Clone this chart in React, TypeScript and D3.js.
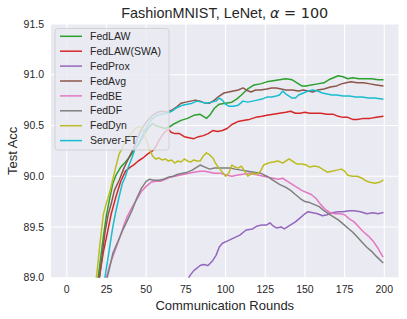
import React from "react";
import * as d3 from "d3";

type Pt = [number, number];

const seriesNames = ["FedLAW", "FedLAW(SWA)", "FedProx", "FedAvg", "FedBE", "FedDF", "FedDyn", "Server-FT"];
const seriesColors = ["#2ca02c", "#d62728", "#9467bd", "#8c564b", "#e377c2", "#7f7f7f", "#bcbd22", "#17becf"];

const xTicks = [0, 25, 50, 75, 100, 125, 150, 175, 200];
const yTicks = [89.0, 89.5, 90.0, 90.5, 91.0, 91.5];

const fedLAW: Pt[] = [[17,88.7],[20,89.03],[23,89.40],[25,89.62],[27,89.78],[29,89.93],[31,90.01],[34,90.09],[37,90.14],[40,90.2],[43,90.27],[45,90.31],[47,90.36],[49,90.42],[51,90.47],[54,90.52],[56,90.5],[58,90.49],[62,90.47],[65,90.49],[68,90.52],[72,90.55],[76,90.57],[80,90.6],[84,90.61],[86,90.59],[88,90.57],[90,90.6],[93,90.67],[96,90.71],[100,90.72],[104,90.73],[107,90.76],[110,90.8],[114,90.86],[118,90.9],[122,90.91],[126,90.93],[130,90.94],[134,90.95],[138,90.96],[142,90.95],[145,90.92],[148,90.89],[151,90.89],[154,90.9],[158,90.91],[162,90.92],[165,90.95],[168,90.97],[171,90.99],[174,90.98],[177,90.96],[180,90.97],[184,90.96],[188,90.96],[192,90.96],[196,90.95],[199,90.95]];

const fedLAWSWA: Pt[] = [[19,88.85],[21,89.05],[23,89.25],[25,89.4],[28,89.63],[31,89.8],[34,89.95],[37,90.05],[40,90.09],[42,90.11],[45,90.15],[48,90.18],[51,90.22],[54,90.25],[56,90.29],[58,90.35],[60,90.4],[62,90.44],[64,90.46],[66,90.43],[68,90.42],[71,90.42],[74,90.39],[77,90.38],[80,90.37],[83,90.39],[86,90.4],[89,90.42],[92,90.45],[95,90.44],[98,90.45],[101,90.47],[104,90.51],[108,90.54],[111,90.55],[115,90.56],[119,90.58],[123,90.59],[126,90.6],[130,90.61],[134,90.62],[138,90.63],[141,90.64],[144,90.62],[147,90.62],[150,90.63],[153,90.62],[157,90.62],[160,90.62],[164,90.61],[168,90.61],[171,90.59],[174,90.58],[177,90.58],[180,90.56],[183,90.56],[187,90.57],[191,90.57],[195,90.58],[199,90.59]];

const fedProx: Pt[] = [[72,88.85],[76,88.98],[78,89.03],[80,89.07],[84,89.12],[86,89.13],[89,89.12],[92,89.17],[94,89.22],[96,89.3],[98,89.34],[101,89.36],[105,89.39],[109,89.42],[113,89.47],[117,89.48],[120,89.51],[123,89.52],[126,89.52],[128,89.54],[130,89.51],[132,89.49],[135,89.5],[137,89.48],[140,89.51],[144,89.55],[147,89.59],[150,89.63],[152,89.65],[155,89.64],[158,89.63],[161,89.61],[164,89.62],[167,89.64],[171,89.65],[174,89.65],[178,89.66],[181,89.66],[185,89.65],[189,89.63],[193,89.64],[196,89.63],[199,89.64]];

const fedAvg: Pt[] = [[18,88.75],[21,89.05],[24,89.44],[26,89.62],[28,89.73],[30,89.86],[33,89.96],[36,90.08],[39,90.18],[42,90.27],[45,90.39],[47,90.46],[49,90.51],[51,90.55],[54,90.6],[57,90.63],[60,90.64],[63,90.63],[66,90.65],[69,90.68],[72,90.72],[75,90.73],[78,90.74],[81,90.75],[84,90.74],[87,90.72],[90,90.72],[93,90.75],[96,90.79],[99,90.82],[102,90.83],[105,90.84],[108,90.85],[111,90.87],[113,90.85],[116,90.83],[119,90.85],[122,90.85],[126,90.86],[129,90.87],[132,90.87],[135,90.86],[138,90.85],[142,90.85],[146,90.84],[149,90.85],[152,90.84],[155,90.83],[158,90.85],[162,90.86],[166,90.88],[170,90.89],[173,90.91],[176,90.92],[179,90.93],[183,90.92],[187,90.92],[191,90.91],[195,90.9],[199,90.89]];

const fedBE: Pt[] = [[24,88.95],[27,89.12],[30,89.25],[33,89.38],[36,89.52],[38,89.6],[41,89.69],[44,89.77],[47,89.85],[50,89.9],[53,89.94],[56,89.95],[59,89.95],[62,89.97],[65,89.99],[68,90.0],[71,90.01],[74,90.02],[77,90.03],[80,90.04],[84,90.05],[87,90.05],[90,90.04],[93,90.03],[97,90.03],[101,90.01],[104,90.0],[107,90.01],[111,90.02],[115,90.03],[118,90.02],[121,90.01],[124,90.0],[127,89.99],[130,89.98],[133,89.97],[136,89.98],[139,89.95],[142,89.92],[145,89.89],[148,89.86],[151,89.84],[154,89.82],[157,89.78],[160,89.72],[163,89.67],[166,89.64],[169,89.63],[172,89.63],[175,89.62],[178,89.58],[181,89.55],[184,89.5],[187,89.45],[190,89.41],[193,89.36],[196,89.29],[199,89.21]];

const fedDF: Pt[] = [[25,88.97],[27,89.1],[29,89.24],[32,89.35],[35,89.46],[38,89.56],[41,89.66],[44,89.78],[47,89.88],[50,89.95],[52,89.97],[55,89.96],[58,89.96],[61,89.97],[64,89.99],[67,90.0],[70,90.02],[73,90.03],[76,90.04],[79,90.06],[82,90.09],[84,90.11],[87,90.09],[90,90.07],[93,90.08],[96,90.08],[100,90.08],[103,90.08],[106,90.07],[110,90.06],[114,90.05],[118,90.04],[122,90.03],[126,90.0],[130,89.96],[134,89.92],[138,89.89],[141,89.86],[144,89.82],[147,89.78],[150,89.75],[153,89.74],[156,89.72],[159,89.7],[162,89.66],[165,89.63],[168,89.6],[171,89.57],[174,89.53],[177,89.49],[180,89.45],[183,89.4],[186,89.35],[189,89.3],[192,89.26],[195,89.21],[199,89.15]];

const fedDyn: Pt[] = [[17,88.8],[19,89.05],[21,89.35],[23,89.62],[25,89.74],[27,89.84],[29,89.97],[31,90.1],[33,90.22],[35,90.28],[37,90.34],[40,90.41],[42,90.45],[44,90.48],[46,90.49],[48,90.46],[50,90.36],[52,90.27],[54,90.2],[56,90.17],[58,90.18],[60,90.16],[62,90.17],[64,90.15],[66,90.16],[68,90.13],[70,90.15],[72,90.14],[74,90.17],[76,90.15],[78,90.14],[80,90.16],[82,90.15],[84,90.15],[86,90.2],[88,90.23],[90,90.21],[92,90.18],[94,90.12],[96,90.08],[98,90.04],[100,90.0],[102,90.03],[104,90.11],[106,90.09],[108,90.08],[110,90.1],[112,90.05],[114,90.0],[116,90.02],[118,90.03],[120,90.02],[122,90.05],[124,90.11],[127,90.13],[130,90.14],[133,90.15],[136,90.13],[138,90.15],[140,90.17],[142,90.15],[145,90.12],[148,90.12],[151,90.11],[153,90.09],[156,90.1],[159,90.09],[162,90.06],[164,90.04],[167,90.05],[170,90.06],[173,90.07],[175,90.05],[177,90.01],[180,90.0],[183,90.0],[186,89.98],[189,89.95],[191,89.94],[194,89.93],[197,89.94],[199,89.96]];

const serverFT: Pt[] = [[23,88.9],[25,89.1],[27,89.3],[29,89.5],[31,89.66],[33,89.8],[35,89.93],[37,90.0],[39,90.1],[41,90.18],[43,90.27],[45,90.32],[47,90.38],[49,90.45],[51,90.5],[53,90.55],[55,90.58],[57,90.6],[60,90.61],[63,90.62],[66,90.64],[68,90.66],[70,90.68],[73,90.7],[76,90.71],[79,90.72],[82,90.74],[85,90.73],[88,90.72],[91,90.73],[94,90.74],[96,90.77],[98,90.75],[100,90.71],[102,90.69],[105,90.69],[108,90.7],[111,90.74],[114,90.73],[117,90.74],[120,90.75],[123,90.76],[126,90.78],[129,90.78],[132,90.79],[134,90.8],[136,90.84],[138,90.81],[140,90.79],[142,90.77],[144,90.77],[146,90.8],[149,90.82],[152,90.84],[155,90.85],[158,90.84],[161,90.82],[164,90.81],[167,90.8],[170,90.8],[174,90.79],[178,90.79],[182,90.78],[186,90.78],[190,90.77],[194,90.77],[199,90.76]];

const seriesData: Pt[][] = [fedLAW, fedLAWSWA, fedProx, fedAvg, fedBE, fedDF, fedDyn, serverFT];

const W = 407;
const H = 319;
const PL = 51, PR = 398.5, PT = 24, PB = 277.7;
const TEXT = "#262626";
const FONT = "Arial, 'Liberation Sans', Helvetica, sans-serif";

export default function App() {
  const x = d3.scaleLinear().domain([-9.95, 208.95]).range([PL, PR]);
  const y = d3.scaleLinear().domain([89, 91.5]).range([PB, PT]);
  const line = d3.line<Pt>().x(d => x(d[0])).y(d => y(d[1]));

  const legX = 55, legY = 28.5, legW = 114, legH = 121.5;
  const rowY0 = 36.3, rowStep = 14.9;

  return (
    <svg width={W} height={H} style={{ position: "absolute", left: 0, top: 0, background: "#ffffff" }}
      fontFamily={FONT}>
      <defs>
        <clipPath id="plotclip">
          <rect x={PL} y={PT} width={PR - PL} height={PB - PT} />
        </clipPath>
      </defs>
      <rect x={0} y={0} width={W} height={H} fill="#ffffff" />
      <rect x={PL} y={PT} width={PR - PL} height={PB - PT} fill="#EAEAF2" />
      {xTicks.map(t => (
        <line key={"gx" + t} x1={x(t)} x2={x(t)} y1={PT} y2={PB} stroke="#ffffff" strokeWidth={1.1} />
      ))}
      {yTicks.map(t => (
        <line key={"gy" + t} x1={PL} x2={PR} y1={y(t)} y2={y(t)} stroke="#ffffff" strokeWidth={1.1} />
      ))}
      <g clipPath="url(#plotclip)">
        {seriesData.map((s, i) => (
          <path key={seriesNames[i]} d={line(s) || ""} fill="none" stroke={seriesColors[i]}
            strokeWidth={1.5} strokeLinejoin="round" strokeLinecap="square" />
        ))}
      </g>
      {xTicks.map(t => (
        <text key={"tx" + t} x={x(t)} y={293.3} fontSize={10.5} fill={TEXT} textAnchor="middle">{t}</text>
      ))}
      {yTicks.map(t => (
        <text key={"ty" + t} x={44} y={y(t)} dy="0.35em" fontSize={10.5} fill={TEXT} textAnchor="end">{t.toFixed(1)}</text>
      ))}
      <text x={(PL + PR) / 2} y={309.5} fontSize={13} fill={TEXT} textAnchor="middle">Communication Rounds</text>
      <text transform={`translate(17,${(PT + PB) / 2}) rotate(-90)`} fontSize={13} fill={TEXT} textAnchor="middle">Test Acc</text>
      <text x={(PL + PR) / 2} y={18.3} fontSize={14.4} fill={TEXT} textAnchor="middle">
        FashionMNIST, LeNet, <tspan fontFamily="'DejaVu Sans'" fontStyle="italic">α</tspan>
        <tspan fontFamily="'DejaVu Sans'"> = 100</tspan>
      </text>
      <rect x={legX} y={legY} width={legW} height={legH} rx={3} fill="#EAEAF2" fillOpacity={0.8}
        stroke="#cccccc" strokeWidth={0.8} />
      {seriesNames.map((n, i) => (
        <g key={"leg" + n}>
          <line x1={60} x2={82} y1={rowY0 + i * rowStep} y2={rowY0 + i * rowStep}
            stroke={seriesColors[i]} strokeWidth={1.5} />
          <text x={90} y={rowY0 + i * rowStep} dy="0.35em" fontSize={10.5} fill={TEXT}>{n}</text>
        </g>
      ))}
    </svg>
  );
}
